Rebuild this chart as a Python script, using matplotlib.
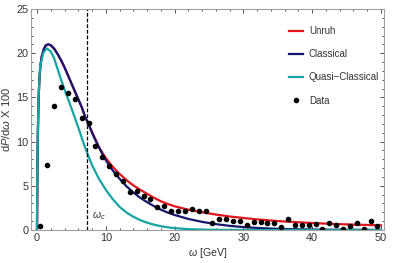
import matplotlib
matplotlib.use("Agg")
import matplotlib.pyplot as plt
from matplotlib.ticker import MultipleLocator

plt.rcParams['font.family'] = ['Liberation Sans', 'DejaVu Sans']
plt.rcParams['mathtext.fontset'] = 'custom'
plt.rcParams['mathtext.it'] = 'Liberation Sans:italic'
plt.rcParams['mathtext.rm'] = 'Liberation Sans'

# data points (omega, dP/dw x 100)
data_w = [k + 0.5 for k in range(50)]
data_y = [0.45, 7.35, 14.0, 16.2, 15.5, 14.8, 12.7, 12.1, 9.5, 8.3,
          7.2, 6.3, 5.5, 4.3, 4.45, 3.85, 3.45, 2.65, 2.75, 2.1,
          2.2, 2.15, 2.35, 2.2, 2.15, 0.83, 1.2, 1.28, 1.0, 1.0,
          0.6, 0.9, 0.9, 0.83, 0.8, 0.3, 1.2, 0.6, 0.53, 0.57,
          0.72, 0.08, 0.8, 0.6, 0.15, 0.45, 0.8, 0.1, 1.05, 0.45]

# curves
cl_w = [0, 0.05, 0.1, 0.2, 0.34, 0.5, 0.68, 1.0, 1.3, 1.65, 2.0, 2.5, 3.0, 3.5,
        4.0, 4.5, 5.0, 5.5, 6.0, 6.5, 7.0, 7.5, 8.0, 8.5, 9.0, 9.5, 10, 11, 12,
        13, 14, 15, 16, 17, 18, 19, 20, 22, 24, 26, 28, 30, 32, 34, 36, 38, 40,
        45, 50]
cl_y = [0, 6.0, 9.5, 14.0, 17.0, 18.6, 19.6, 20.5, 20.9, 21.0, 20.9, 20.5, 19.9,
        19.2, 18.4, 17.5, 16.6, 15.7, 14.8, 13.9, 12.8, 11.95, 11.0, 10.15, 9.35,
        8.6, 7.9, 6.75, 5.8, 4.95, 4.25, 3.65, 3.15, 2.7, 2.3, 1.97, 1.7, 1.25,
        0.92, 0.66, 0.47, 0.33, 0.23, 0.16, 0.11, 0.08, 0.05, 0.02, 0.01]

un_w = [0, 0.05, 0.1, 0.2, 0.34, 0.5, 0.68, 1.0, 1.3, 1.65, 2.0, 2.5, 3.0, 3.5,
        4.0, 4.5, 5.0, 5.5, 6.0, 6.5, 7.0, 7.5, 8.0, 8.5, 9.0, 9.5, 10, 11, 12,
        13, 14, 15, 16, 17, 18, 19, 20, 22, 24, 26, 28, 30, 32, 34, 36, 38, 40,
        42, 44, 46, 48, 50]
un_y = [0, 6.0, 9.5, 14.0, 17.0, 18.6, 19.6, 20.5, 20.9, 21.0, 20.9, 20.5, 19.9,
        19.2, 18.4, 17.5, 16.6, 15.7, 14.8, 13.9, 12.8, 11.98, 11.1, 10.25, 9.4,
        8.75, 8.15, 7.15, 6.35, 5.65, 5.05, 4.55, 4.1, 3.65, 3.25, 2.95, 2.68,
        2.3, 2.0, 1.75, 1.53, 1.36, 1.2, 1.07, 0.96, 0.87, 0.79, 0.72, 0.66,
        0.61, 0.57, 0.53]

qc_w = [0, 0.05, 0.1, 0.2, 0.45, 0.9, 1.4, 2.0, 2.5, 3.0, 3.5, 4.0, 5.0, 6.0,
        7.0, 8.0, 9.0, 10, 11, 12, 13, 14, 15, 16, 17, 18, 19, 20, 22, 24, 26,
        30, 40, 50]
qc_y = [0, 7.0, 10.0, 14.5, 18.5, 20.0, 20.55, 20.2, 19.4, 18.2, 17.0, 15.9,
        13.8, 11.6, 9.3, 7.35, 5.8, 4.55, 3.5, 2.62, 1.98, 1.5, 1.12, 0.83, 0.6,
        0.43, 0.3, 0.21, 0.1, 0.045, 0.02, 0.0, 0.0, 0.0]

omega_c = 7.2

fig = plt.figure(figsize=(3.94, 2.63), dpi=100)
ax = fig.add_axes([0.0787, 0.1255, 0.896, 0.8403])

ax.plot(un_w, un_y, color='#e0161c', lw=1.6, label='Unruh')
ax.plot(cl_w, cl_y, color='#16166e', lw=1.6, label='Classical')
ax.plot(qc_w, qc_y, color='#17a3a3', lw=1.6, label='Quasi\u2212Classical')
ax.plot(data_w, data_y, 'o', color='black', ms=3.0, label='Data')
ax.axvline(omega_c, color='black', ls=(0, (3, 1.5)), lw=0.9)
ax.text(omega_c + 0.8, 1.3, r'$\omega_c$', fontsize=7.5, color='#333333')

ax.set_xlim(-0.87, 50.45)
ax.set_ylim(0, 25)
ax.xaxis.set_major_locator(MultipleLocator(10))
ax.xaxis.set_minor_locator(MultipleLocator(2))
ax.yaxis.set_major_locator(MultipleLocator(5))
ax.yaxis.set_minor_locator(MultipleLocator(1))
ax.tick_params(which='both', direction='in', top=True, right=True,
               colors='#333333', labelsize=7.8, width=0.6, pad=2)
ax.tick_params(which='major', length=3)
ax.tick_params(which='minor', length=1.7)
for s in ax.spines.values():
    s.set_color('#a0a0a0')
    s.set_linewidth(0.8)

ax.set_xlabel(r'$\omega$ [GeV]', fontsize=7.6, color='#333333', labelpad=2)
ax.set_ylabel(r'd$P$/d$\omega$ X 100', fontsize=8, color='#333333', labelpad=3)

leg = ax.legend(loc='upper right', bbox_to_anchor=(0.997, 0.94), frameon=False,
                fontsize=7, handlelength=1.4, labelspacing=1.35,
                handletextpad=0.6, borderaxespad=0.0)
for t in leg.get_texts():
    t.set_color('#333333')

fig.savefig('out.png', dpi=100)
